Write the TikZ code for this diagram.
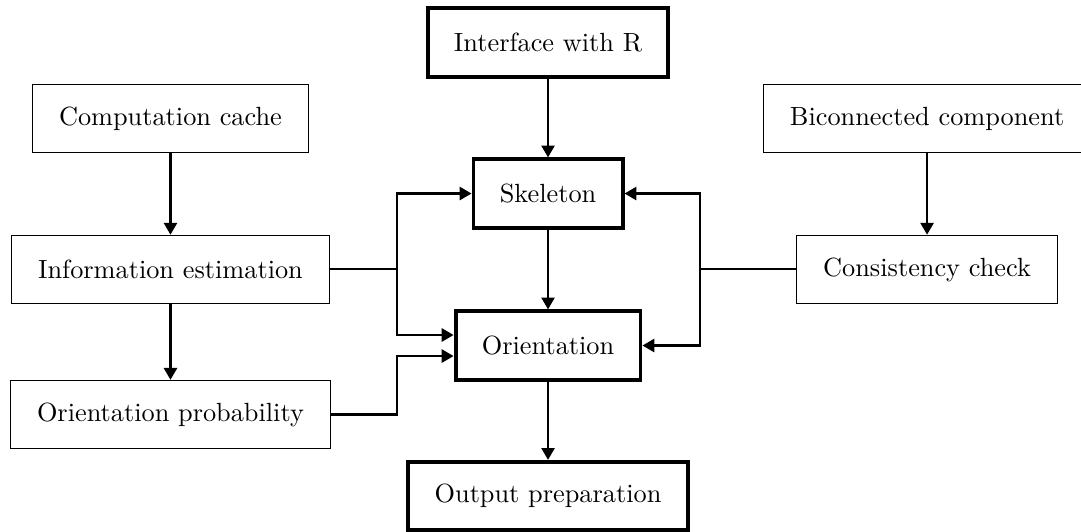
\documentclass[tikz,border=0pt]{standalone}
\usepackage{amsmath}
\usepackage{xcolor}
\usepackage{tikz}
\usetikzlibrary{arrows.meta, positioning, calc}

\tikzset{
  block/.style={rectangle, draw, line width=0.4pt, inner xsep=10pt, inner ysep=8pt, minimum height=26pt},
  mainblock/.style={block, line width=1.5pt},
  wire/.style={line width=0.8pt},
  link/.style={wire, -{Triangle[length=4.5pt, width=5pt]}}
}

\begin{document}
\begin{tikzpicture}
          \useasboundingbox (0,0) rectangle (14.445,-7.096);

          % main column
          \node[mainblock] (iface) at (7.323,-0.568) {Interface with R};
          \node[mainblock] (skel) at (7.323,-2.586) {Skeleton};
          \node[mainblock] (orient) at (7.323,-4.617) {Orientation};
          \node[mainblock] (output) at (7.323,-6.628) {Output preparation};

          % left column
          \node[block] (cache) at (2.278,-1.584) {Computation cache};
          \node[block] (info) at (2.278,-3.6) {Information estimation};
          \node[block] (prob) at (2.278,-5.539) {Orientation probability};

          % right column
          \node[block] (bicon) at (12.388,-1.584) {Biconnected component};
          \node[block] (cons) at (12.388,-3.6) {Consistency check};

          \coordinate (jl) at (5.305,-3.6);
          \coordinate (jr) at (9.354,-3.6);

          \draw[link] (iface) -- (skel);
          \draw[link] (skel) -- (orient);
          \draw[link] (orient) -- (output);
          \draw[link] (cache) -- (info);
          \draw[link] (info) -- (prob);
          \draw[link] (bicon) -- (cons);

          \draw[wire] (info.east) -- (jl);
          \draw[link] (jl) |- (skel.west);
          \draw[link] (jl) |- ([yshift=4pt]orient.west);
          \draw[link] (prob.east) -- (prob.east -| jl) |- ([yshift=-4pt]orient.west);

          \draw[wire] (cons.west) -- (jr);
          \draw[link] (jr) |- (skel.east);
          \draw[link] (jr) |- (orient.east);
        \end{tikzpicture}
\end{document}
